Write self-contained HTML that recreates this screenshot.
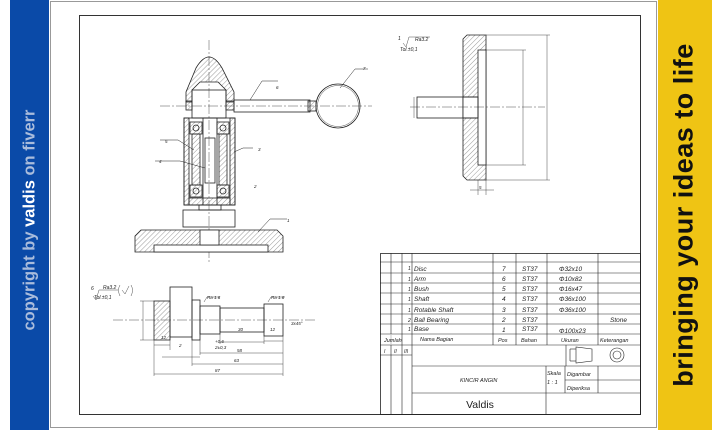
<!DOCTYPE html>
<html><head><meta charset="utf-8"><style>
html,body{margin:0;padding:0;background:#fff;}
body{width:712px;height:430px;position:relative;overflow:hidden;font-family:"Liberation Sans",sans-serif;}
#blue{position:absolute;left:10px;top:0;width:39px;height:430px;background:#0a4aa8;}
#yellow{position:absolute;left:658px;top:0;width:54px;height:430px;background:#efc414;}
.vt{position:absolute;white-space:nowrap;transform:translate(-50%,-50%) rotate(-90deg);font-weight:bold;}
svg{position:absolute;left:0;top:0;}
</style></head><body>
<div id="blue"></div><div id="yellow"></div>
<div class="vt" style="left:30px;top:220px;font-size:16.5px;color:#a9bcdc;">copyright by <span style="color:#fff">valdis</span> on fiverr</div>
<div class="vt" style="left:684px;top:215px;font-size:27px;letter-spacing:0.5px;color:#111;">bringing your ideas to life</div>
<svg width="712" height="430" viewBox="0 0 712 430" font-family="Liberation Sans, sans-serif">
<defs>
<pattern id="h" width="3.5" height="3.5" patternUnits="userSpaceOnUse" patternTransform="rotate(45)">
<line x1="0" y1="0" x2="0" y2="4" stroke="#555" stroke-width="0.6"/></pattern>
</defs>
<rect x="50.5" y="1.5" width="606" height="426" fill="#fff" stroke="#999" stroke-width="1"/>
<rect x="79.5" y="15.5" width="561" height="399" fill="none" stroke="#333" stroke-width="1"/>
<g stroke="#222" stroke-width="0.8" fill="none">
<line x1="209" y1="40" x2="209" y2="262" stroke-width="0.4" stroke-dasharray="10,2,2,2"/>
<line x1="160" y1="106" x2="372" y2="106" stroke-width="0.4" stroke-dasharray="10,2,2,2"/>
<path d="M186,102 L186,92 L196,68 Q209,46 222,68 L234,92 L234,102 L226,102 L226,90 L218,82 L200,82 L192,90 L192,102 Z" fill="url(#h)"/>
<rect x="192" y="90" width="34" height="28"/>
<rect x="234" y="100" width="76" height="12"/>
<rect x="186" y="101" width="6" height="9" fill="url(#h)"/><rect x="226" y="101" width="8" height="9" fill="url(#h)"/>
<rect x="308" y="101" width="8" height="10" fill="url(#h)"/>
<circle cx="338" cy="106" r="22"/>
<circle cx="338" cy="106" r="20.5" stroke-width="0.4"/>
<rect x="184" y="118" width="51" height="87"/>
<rect x="184" y="118" width="5" height="87" fill="url(#h)"/><rect x="230" y="118" width="5" height="87" fill="url(#h)"/>
<rect x="189" y="198" width="41" height="7" fill="url(#h)"/>
<rect x="190" y="122" width="12" height="12" fill="url(#h)"/><rect x="217" y="122" width="12" height="12" fill="url(#h)"/>
<rect x="190" y="185" width="12" height="12" fill="url(#h)"/><rect x="217" y="185" width="12" height="12" fill="url(#h)"/>
<circle cx="196" cy="128" r="3"/><circle cx="223" cy="128" r="3"/><circle cx="196" cy="191" r="3"/><circle cx="223" cy="191" r="3"/>
<rect x="192" y="134" width="8" height="51" fill="url(#h)"/><rect x="219" y="134" width="8" height="51" fill="url(#h)"/>
<rect x="203" y="118" width="14" height="87"/>
<rect x="205" y="138" width="10" height="45"/>
<rect x="199" y="205" width="22" height="5"/>
<rect x="183" y="210" width="52" height="17"/>
<path d="M141,230 L277,230 L283,236 L283,252 L135,252 L135,236 Z" fill="url(#h)"/>
<rect x="154" y="245" width="114" height="7" fill="#fff"/>
<rect x="200" y="230" width="19" height="15" fill="#fff"/>
<g stroke-width="0.5"><path d="M278,81 L262,81 L250,100"/><path d="M368,69 L355,69 L340,88"/><path d="M160,140 L178,140 L194,150"/><path d="M155,161 L180,161 L205,168"/><path d="M253,148 L243,148 L234,152"/><path d="M287,219 L270,219 L258,232"/></g>
<path d="M467,35 L486,35 L486,180 L467,180 L463,176 L463,39 Z" fill="url(#h)"/>
<rect x="478" y="50" width="8" height="115" fill="#fff"/>
<rect x="463" y="97" width="15" height="21" fill="#fff"/>
<rect x="417" y="97" width="61" height="21"/>
<line x1="410" y1="107" x2="545" y2="107" stroke-width="0.4" stroke-dasharray="10,2,2,2"/>
<g stroke-width="0.4"><line x1="486" y1="50" x2="526" y2="50"/><line x1="486" y1="165" x2="526" y2="165"/><line x1="523" y1="50" x2="523" y2="165"/>
<line x1="486" y1="35" x2="550" y2="35"/><line x1="486" y1="180" x2="550" y2="180"/><line x1="547" y1="35" x2="547" y2="180"/>
<line x1="414" y1="97" x2="414" y2="118"/><line x1="478" y1="180" x2="478" y2="195"/><line x1="486" y1="180" x2="486" y2="195"/><line x1="470" y1="190" x2="494" y2="190"/>
<path d="M403,43 L406,47 L409,37 L430,37"/></g>
<line x1="113" y1="320" x2="316" y2="320" stroke-width="0.4" stroke-dasharray="10,2,2,2"/>
<rect x="154" y="301" width="16" height="39" fill="url(#h)"/>
<rect x="170" y="287" width="22" height="50"/>
<rect x="192" y="300" width="8" height="40"/>
<rect x="200" y="306" width="20" height="28"/>
<rect x="220" y="308" width="44" height="24"/>
<rect x="264" y="304" width="19" height="32"/>
<g stroke-width="0.4"><line x1="154" y1="340" x2="154" y2="376"/><line x1="283" y1="336" x2="283" y2="376"/><line x1="192" y1="337" x2="192" y2="366"/><line x1="200" y1="340" x2="200" y2="355"/>
<line x1="154" y1="345" x2="170" y2="345"/><line x1="170" y1="337" x2="170" y2="350"/><line x1="162" y1="357" x2="200" y2="357" /><line x1="200" y1="353" x2="283" y2="353"/><line x1="192" y1="364" x2="283" y2="364"/><line x1="154" y1="374" x2="283" y2="374"/>
<line x1="220" y1="334" x2="220" y2="344"/><line x1="220" y1="342" x2="264" y2="342"/><line x1="264" y1="336" x2="264" y2="344"/><line x1="264" y1="341" x2="283" y2="341"/>
<line x1="140" y1="301" x2="154" y2="301"/><line x1="140" y1="340" x2="154" y2="340"/><line x1="143" y1="301" x2="143" y2="340"/>
<path d="M93,296 L96,300 L99,290 L118,290"/><path d="M204,302 L207,297 L220,297"/><path d="M268,302 L271,297 L285,297"/>
<path d="M120,285 Q117,290 120,296"/><path d="M131,285 Q134,290 131,296"/><path d="M122,290 L125,294 L129,286"/></g>
<rect x="380.5" y="253.5" width="260" height="161"/>
<g stroke-width="0.6">
<line x1="391" y1="253" x2="391" y2="414"/><line x1="402" y1="253" x2="402" y2="414"/><line x1="412" y1="253" x2="412" y2="414"/>
<line x1="493" y1="253" x2="493" y2="345"/><line x1="516" y1="253" x2="516" y2="345"/><line x1="547" y1="253" x2="547" y2="345"/><line x1="598" y1="253" x2="598" y2="345"/>
<line x1="380" y1="262" x2="641" y2="262"/><line x1="380" y1="273" x2="641" y2="273"/><line x1="380" y1="283" x2="641" y2="283"/><line x1="380" y1="293" x2="641" y2="293"/><line x1="380" y1="304" x2="641" y2="304"/><line x1="380" y1="314" x2="641" y2="314"/><line x1="380" y1="324" x2="641" y2="324"/><line x1="380" y1="334" x2="641" y2="334"/><line x1="380" y1="345" x2="641" y2="345"/>
<line x1="380" y1="355" x2="412" y2="355"/>
<line x1="566" y1="345" x2="566" y2="366"/><line x1="412" y1="366" x2="641" y2="366"/><line x1="412" y1="393" x2="641" y2="393"/>
<line x1="546" y1="366" x2="546" y2="414"/><line x1="565" y1="366" x2="565" y2="393"/><line x1="598" y1="366" x2="598" y2="393"/><line x1="565" y1="380" x2="641" y2="380"/>
<line x1="391" y1="334" x2="391" y2="345" stroke="#fff"/>
<path d="M592,349 L592,361 L576,363 L576,347 Z"/><line x1="576" y1="349" x2="570" y2="349" /><line x1="576" y1="361" x2="570" y2="361"/><line x1="570" y1="349" x2="570" y2="361"/>
<circle cx="617" cy="355" r="7"/><circle cx="617" cy="355" r="4"/>
</g></g>
<g font-size="6.5" font-style="italic" fill="#222">
<text x="398" y="40" font-size="5">1</text><text x="415" y="41" font-size="5">Ra3.2</text><text x="400" y="51" font-size="5">Tol.±0,1</text>
<text x="91" y="290" font-size="5">6</text><text x="103" y="289" font-size="5">Ra3.2</text><text x="94" y="299" font-size="5">Tol.±0,1</text>
<text x="207" y="299" font-size="4.5">Ra 1.6</text><text x="271" y="299" font-size="4.5">Ra 1.6</text>
<text x="161" y="339" font-size="4.5">12</text><text x="179" y="347" font-size="4.5">2</text><text x="238" y="331" font-size="4.5">30</text><text x="270" y="331" font-size="4.5">12</text>
<text x="215" y="343" font-size="4.5">+0.6</text><text x="215" y="349" font-size="4.5">2±0,3</text><text x="237" y="352" font-size="4.5">58</text><text x="234" y="362" font-size="4.5">63</text><text x="215" y="372" font-size="4.5">87</text><text x="291" y="325" font-size="4.5">3x45°</text>
<text x="363" y="70" font-size="4.5">7</text><text x="276" y="89" font-size="4.5">6</text><text x="165" y="143" font-size="4.5">5</text><text x="159" y="163" font-size="4.5">4</text><text x="258" y="151" font-size="4.5">3</text><text x="254" y="188" font-size="4.5">2</text><text x="287" y="222" font-size="4.5">1</text><text x="479" y="189" font-size="4.5">5</text>
<text x="408" y="270" font-size="5">1</text><text x="414" y="271">Disc</text><text x="502" y="271">7</text><text x="522" y="271">ST37</text><text x="559" y="271">Φ32x10</text>
<text x="408" y="281" font-size="5">1</text><text x="414" y="281">Arm</text><text x="502" y="281">6</text><text x="522" y="281">ST37</text><text x="559" y="281">Φ10x82</text>
<text x="408" y="291" font-size="5">1</text><text x="414" y="291">Bush</text><text x="502" y="291">5</text><text x="522" y="291">ST37</text><text x="559" y="291">Φ16x47</text>
<text x="408" y="301" font-size="5">1</text><text x="414" y="301">Shaft</text><text x="502" y="301">4</text><text x="522" y="301">ST37</text><text x="559" y="301">Φ36x100</text>
<text x="408" y="312" font-size="5">1</text><text x="414" y="312">Rotable Shaft</text><text x="502" y="312">3</text><text x="522" y="312">ST37</text><text x="559" y="312">Φ36x100</text>
<text x="408" y="322" font-size="5">2</text><text x="414" y="322">Ball Bearing</text><text x="502" y="322">2</text><text x="522" y="322">ST37</text><text x="610" y="322">Stone</text>
<text x="408" y="331" font-size="5">1</text><text x="414" y="331">Base</text><text x="502" y="332">1</text><text x="522" y="331">ST37</text><text x="559" y="333">Φ100x23</text>
<text x="384" y="342" font-size="5.5">Jumlah</text><text x="420" y="341" font-size="5.5">Nama Bagian</text><text x="498" y="342" font-size="5.5">Pos</text><text x="521" y="342" font-size="5.5">Bahan</text><text x="561" y="342" font-size="5.5">Ukuran</text><text x="600" y="342" font-size="5.5">Keterangan</text>
<text x="384" y="353" font-size="5">I</text><text x="394" y="353" font-size="5">II</text><text x="404" y="353" font-size="5">III</text>
<text x="460" y="382" font-size="5.5">KINCIR ANGIN</text><text x="547" y="375" font-size="5.5">Skala</text><text x="547" y="384" font-size="5.5">1 : 1</text><text x="567" y="376" font-size="5.5">Digambar</text><text x="567" y="390" font-size="5.5">Diperiksa</text>
</g>
<text x="480" y="408" font-size="10.5" fill="#222" text-anchor="middle">Valdis</text>
</svg>
</body></html>
